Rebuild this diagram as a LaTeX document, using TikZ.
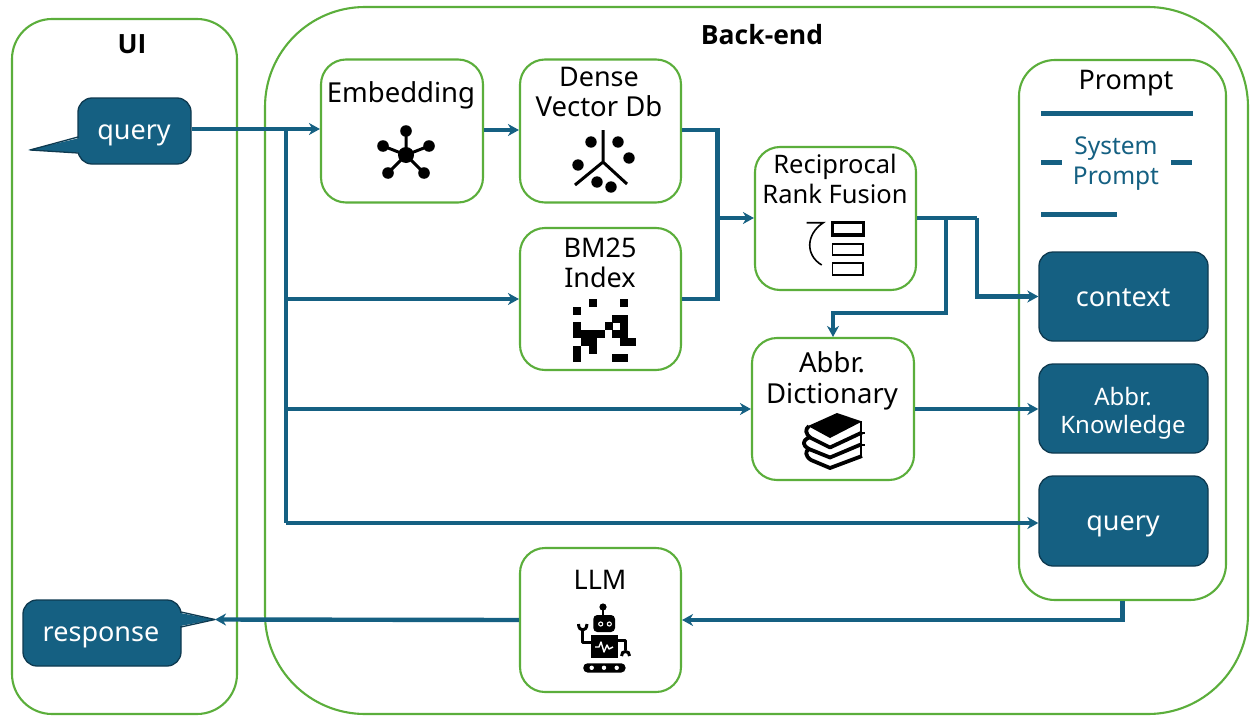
\documentclass[tikz,border=0pt]{standalone}
\usepackage{fontspec}
\setmainfont{Noto Sans}
\newfontfamily\titlefont{Open Sans}
\usetikzlibrary{arrows.meta}
\definecolor{navy}{HTML}{156082}
\definecolor{grn}{HTML}{5BAE3B}
\definecolor{edge}{HTML}{0E3A50}
\newcommand{\fs}[1]{\fontsize{#1}{#1}\selectfont}
\tikzset{
  gbox/.style={draw=grn,line width=2.1pt,fill=white,rectangle,inner sep=0pt,rounded corners=25pt},
  pill/.style={draw=edge,line width=1.3pt,fill=navy,rectangle,inner sep=0pt,rounded corners=14pt},
  lab/.style={inner sep=0pt,anchor=base,text=black},
  wlab/.style={lab,text=white},
  flow/.style={draw=navy,line width=4.4pt,line join=miter},
  arr/.style={flow,-{Stealth[length=11pt,width=12pt,inset=3.5pt]}},
  sysline/.style={draw=navy,line width=5pt},
  tail/.style={draw=edge,line width=1.3pt,line join=round}
}
\begin{document}
\begin{tikzpicture}[x=1pt,y=-1pt]
\useasboundingbox (0,0) rectangle (1255,725);
% containers
\node[gbox,rounded corners=40pt,minimum width=225pt,minimum height=695pt] (ui) at (124.5,366.5) {};
\node[gbox,rounded corners=100pt,minimum width=983pt,minimum height=707pt] (backend) at (756.5,360.5) {};
\node[gbox,rounded corners=36pt,minimum width=207pt,minimum height=540pt] (prompt) at (1122.5,330) {};
\node[lab,font=\titlefont\bfseries\fs{26.5}] (uit) at (132,53) {UI};
\node[lab,font=\titlefont\bfseries\fs{26.5}] (bet) at (762,45) {Back-end};
% boxes
\node[gbox,minimum width=162pt,minimum height=143pt] (embedding) at (402,131) {};
\node[gbox,minimum width=161pt,minimum height=143pt] (dense) at (600.5,131) {};
\node[gbox,minimum width=161pt,minimum height=142pt] (bm) at (600.5,299) {};
\node[gbox,minimum width=161pt,minimum height=143pt] (rrf) at (835.5,218.5) {};
\node[gbox,minimum width=162pt,minimum height=142pt] (dict) at (833,409) {};
\node[gbox,minimum width=161pt,minimum height=144pt] (llm) at (600.5,620) {};
% labels in boxes
\node[lab,font=\fs{27.5}] (t1) at (401,102) {Embedding};
\node[lab,font=\fs{27}] (t2a) at (599,86) {Dense};
\node[lab,font=\fs{27.5}] (t2b) at (599,116) {Vector Db};
\node[lab,font=\fs{27}] (t3a) at (600,257) {BM25};
\node[lab,font=\fs{27}] (t3b) at (600,287) {Index};
\node[lab,font=\fs{25.5}] (t4a) at (835,173) {Reciprocal};
\node[lab,font=\fs{25.5}] (t4b) at (835,203) {Rank Fusion};
\node[lab,font=\fs{27.5}] (t5a) at (832,372) {Abbr.};
\node[lab,font=\fs{27.5}] (t5b) at (832,403) {Dictionary};
\node[lab,font=\fs{27}] (t6) at (600,589) {LLM};
% prompt
\node[lab,font=\fs{27}] (pt) at (1126,89) {Prompt};
\draw[sysline] (1041,113.5) -- (1193,113.5);
\draw[sysline] (1041,162) -- (1062,162);
\draw[sysline] (1171,162) -- (1192,162);
\draw[sysline] (1041,214) -- (1117,214);
\node[lab,text=navy,font=\fs{24.5}] (s1) at (1116,154) {System};
\node[lab,text=navy,font=\fs{24.5}] (s2) at (1116,184) {Prompt};
\node[pill,minimum width=169pt,minimum height=89pt] (ctx) at (1123.5,296.5) {};
\node[wlab,font=\fs{27}] (ctxt) at (1123,306) {context};
\node[pill,minimum width=169pt,minimum height=89pt] (ak) at (1123.5,408.5) {};
\node[wlab,font=\fs{24}] (ak1) at (1123,405) {Abbr.};
\node[wlab,font=\fs{24}] (ak2) at (1123,433) {Knowledge};
\node[pill,minimum width=169pt,minimum height=90pt] (qp) at (1123.5,521) {};
\node[wlab,font=\fs{27}] (qpt) at (1123,530) {query};
% bubbles
\node[pill,minimum width=113pt,minimum height=66pt] (qui) at (134.5,131) {};
\fill[navy] (84,137) -- (28,150) -- (84,153) -- cycle;
\draw[tail] (78,137) -- (30,150) -- (78,153);
\node[wlab,font=\fs{27}] (quit) at (134,139) {query};
\node[pill,minimum width=158pt,minimum height=66pt] (resp) at (102,633) {};
\fill[navy] (175,612) -- (215,619.5) -- (175,627) -- cycle;
\draw[tail] (181,612) -- (215,619.5) -- (181,627);
\node[wlab,font=\fs{27}] (respt) at (101,641) {response};
\coordinate (resptip) at (215,619.5);
% connectors
\coordinate (tap) at (286,129);
\coordinate (qin) at (286,523);
\coordinate (merge) at (717.5,218);
\coordinate (denseout) at (717.5,130);
\coordinate (split) at (946,218);
\coordinate (ctxrise) at (977,218);
\coordinate (dictdrop) at (946,313);
\draw[arr] (qui.east |- tap) -- (tap -| embedding.west);
\draw[flow] (tap) -- (qin);
\draw[arr] (qin) -- (qin -| qp.west);
\draw[arr] (tap |- bm.west) -- (bm.west);
\draw[arr] (tap |- dict.west) -- (dict.west);
\draw[arr] (embedding.east |- denseout) -- (dense.west |- denseout);
\draw[flow] (dense.east |- denseout) -- (denseout) -- (merge |- bm.east) -- (bm.east);
\draw[arr] (merge) -- (rrf.west |- merge);
\draw[flow] (rrf.east |- split) -- (ctxrise);
\draw[arr] (ctxrise) -- (ctxrise |- ctx.west) -- (ctx.west);
\draw[arr] (split) -- (dictdrop) -- (dictdrop -| dict.north) -- (dict.north);
\draw[arr] (dict.east) -- (ak.west |- dict.east);
\draw[arr] (prompt.south) -- (prompt.south |- llm.east) -- (llm.east);
\draw[arr] (llm.west) -- (resptip);
% embedding icon
\draw[black,line width=3pt] (406,155) -- (406,131) (406,155) -- (383,146) (406,155) -- (429,146) (406,155) -- (388,173) (406,155) -- (424,173);
\fill[black] (406,155) circle (8pt) (406,131) circle (5.8pt) (383,146) circle (5.8pt) (429,146) circle (5.8pt) (388,173) circle (5.8pt) (424,173) circle (5.8pt);
% dense icon
\draw[black,line width=3pt] (603,130) -- (603,162) (575,185) -- (603,162) -- (627,184);
\fill[black] (591,142) circle (5.7pt) (618,142) circle (5.7pt) (629,158) circle (5.7pt) (578,165) circle (5.7pt) (597,182) circle (5.7pt) (611,187) circle (5.7pt);
% bm25 icon
\foreach \c/\r in {2/0,6/0,0/1,5/2,6/2,0/3,4/3,6/3,0/4,1/4,2/4,3/4,5/4,6/4,1/5,2/5,6/5,7/5,0/6,2/6,0/7,5/7,6/7}{
  \fill[black] ({573.3+7.83*\c},{299+7.83*\r}) rectangle ++(7.9,7.9);
}
% rrf icon
\draw[black,line width=3.2pt] (832.5,222.7) rectangle (863.5,235);
\draw[black,line width=1.8pt] (832.5,243.7) rectangle (862.7,255);
\draw[black,line width=1.8pt] (832.5,263.3) rectangle (862.7,275);
\draw[black,line width=1.6pt] (806.7,222.7) -- (823.3,222.7) .. controls (806,234) and (805,255) .. (821.7,265);
% books icon
\fill[black] (808,426) -- (837,413) -- (862,421.5) -- (830,438) -- cycle;
\draw[black,line width=3.8pt,line join=round] (862,432.5) -- (830,447.5) -- (811,438) .. controls (805,434) and (805,429) .. (809,426);
\draw[black,line width=3.8pt,line join=round] (862,444) -- (830,457.5) -- (809,449) .. controls (802,445) and (802,441) .. (809,437.5);
\draw[black,line width=3.8pt,line join=round] (862,456) -- (830,468) -- (811,460) .. controls (805,456) and (805,451) .. (809,449);
\draw[black,line width=2.4pt] (861,421) -- (861,457) (861,433) -- (865,433) (861,445) -- (865,445);
% robot icon
\fill[black] (603,607) circle (3.6pt);
\draw[black,line width=2.4pt] (603,607) -- (603,616);
\fill[black,rounded corners=4pt] (593.3,615) rectangle (615,632);
\draw[white,line width=1.1pt] (600.7,624) circle (2pt) (609.3,624) circle (2pt);
\fill[black] (591,635) rectangle (617.7,658);
\draw[white,line width=1.4pt,line join=round] (595,647) -- (599,647) -- (601,642) -- (604,652) -- (607,645) -- (609,649) -- (613,647);
\draw[black,line width=3pt,line join=round] (591,642) -- (582.7,642) -- (582.7,631);
\draw[black,line width=3pt] (578.5,624) .. controls (578.5,632) and (586.9,632) .. (586.9,624);
\draw[black,line width=3pt,line join=round] (617.7,640) -- (625,640) -- (625,650);
\draw[black,line width=3pt] (621.5,656) .. controls (621,650) and (630,650) .. (629.5,656);
\fill[black,rounded corners=4.2pt] (583.3,663.3) rectangle (625.5,672.5);
\fill[white] (591.7,667.8) circle (2.2pt) (604,667.8) circle (2.2pt) (616.7,667.8) circle (2.2pt);
\end{tikzpicture}
\end{document}
